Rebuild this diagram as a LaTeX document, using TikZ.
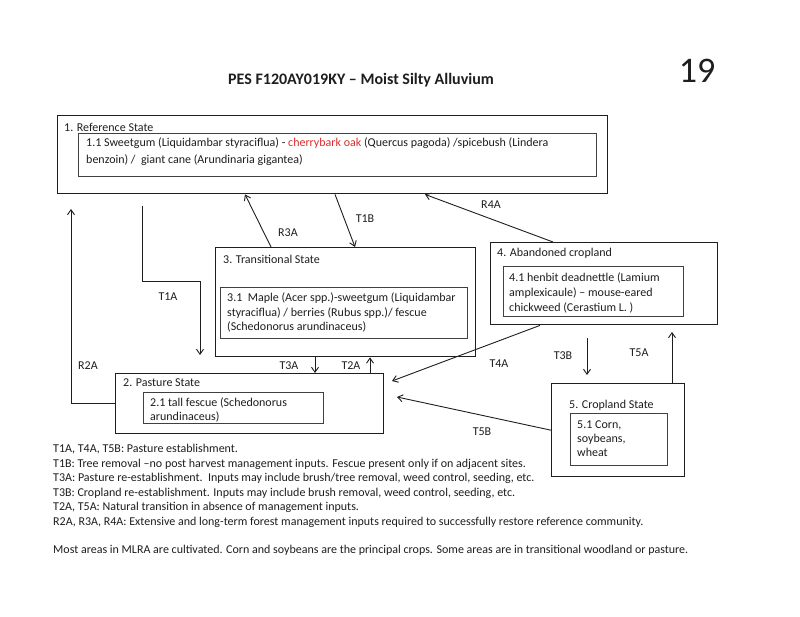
\documentclass[tikz,border=0pt]{standalone}
\usepackage{fontspec}
\setmainfont{Carlito}
\usetikzlibrary{arrows.meta}
\definecolor{ink}{HTML}{1E1E1E}
\definecolor{oakred}{HTML}{D8302E}
\begin{document}
\begin{tikzpicture}[x=1pt,y=-1pt,
  obox/.style={draw=ink, line width=1.4pt, rectangle, anchor=north west, inner sep=0pt},
  ibox/.style={draw=ink!85, line width=1pt, rectangle, anchor=north west, inner sep=0pt},
  txt/.style={anchor=north west, inner sep=0pt, align=left, text=ink, font=\fontsize{12}{14.5}\selectfont},
  lbl/.style={inner sep=0pt, text=ink, font=\fontsize{12}{14}\selectfont},
  arr/.style={draw=ink, line width=0.9pt, -{Straight Barb[length=5pt,width=7pt]}}]
\useasboundingbox[fill=white] (0,0) rectangle (800,617);

\node[font=\bfseries\fontsize{16}{19}\selectfont, text=ink] (title) at (361,80) {PES F120AY019KY -- Moist Silty Alluvium};
\node[font=\fontsize{36}{42}\selectfont, text=ink] (pg) at (697,71) {19};

% boxes
\node[obox, minimum width=550, minimum height=78] (ref) at (57,115) {};
\node[ibox, minimum width=518, minimum height=43] (ref1) at (78,133) {};
\node[obox, minimum width=260, minimum height=109] (trans) at (215,247) {};
\node[ibox, minimum width=247, minimum height=51] (trans1) at (220,287) {};
\node[obox, minimum width=227, minimum height=82] (aband) at (490,242) {};
\node[ibox, minimum width=180, minimum height=50] (aband1) at (503,266) {};
\node[obox, minimum width=133, minimum height=93] (crop) at (551,383) {};
\node[ibox, minimum width=97, minimum height=52] (crop1) at (570,413) {};
\node[obox, minimum width=268, minimum height=60] (past) at (115,373) {};
\node[ibox, minimum width=180, minimum height=31] (past1) at (143,392) {};

% box texts
\node[txt] (refT) at (64,123) {1. Reference State};
\node[txt, font=\fontsize{12}{16.5}\selectfont] (ref1T) at (86,138) {1.1 Sweetgum (Liquidambar styraciflua) - \textcolor{oakred}{cherrybark oak} (Quercus pagoda) /spicebush (Lindera\\benzoin) /\ \ giant cane (Arundinaria gigantea)};
\node[txt] (transT) at (223,255) {3. Transitional State};
\node[txt, font=\fontsize{12}{14.2}\selectfont] (trans1T) at (227,293) {3.1\ \ Maple (Acer spp.)-sweetgum (Liquidambar\\styraciflua) / berries (Rubus spp.)/ fescue\\(Schedonorus arundinaceus)};
\node[txt] (abandT) at (497,248) {4. Abandoned cropland};
\node[txt, font=\fontsize{12}{15}\selectfont] (aband1T) at (509,273) {4.1 henbit deadnettle (Lamium\\amplexicaule) -- mouse-eared\\chickweed (Cerastium L. )};
\node[txt] (cropT) at (569,400) {5. Cropland State};
\node[txt, font=\fontsize{12}{13.6}\selectfont] (crop1T) at (577,421) {5.1 Corn,\\soybeans,\\wheat};
\node[txt] (pastT) at (123,379) {2. Pasture State};
\node[txt, font=\fontsize{12}{14}\selectfont] (past1T) at (150,398) {2.1 tall fescue (Schedonorus\\arundinaceus)};

% free ends
\coordinate (r2aend) at (71,209);
\coordinate (t1as) at (142,206);
\coordinate (t1ae) at (200,355);
\coordinate (t4aend) at (392,381);
\coordinate (t3bs) at (587,338);
\coordinate (t3be) at (587,375);
\coordinate (t5aend) at (672,332);
\coordinate (t5bend) at (397,397);

% connectors
\draw[arr] (past.west) -| (r2aend);
\draw[arr] (t1as) -- (142,281) -- (200,281) -- (t1ae);
\draw[arr] (271,0 |- trans.north) -- (245,0 |- ref.south);
\draw[arr] (335,0 |- ref.south) -- (355,0 |- trans.north);
\draw[arr] (553,0 |- aband.north) -- (425,0 |- ref.south);
\draw[arr] (315,0 |- trans.south) -- (315,0 |- past.north);
\draw[arr] (370,0 |- past.north) -- (370,0 |- trans.south);
\draw[arr] (540,0 |- aband.south) -- (t4aend);
\draw[arr] (t3bs) -- (t3be);
\draw[arr] (672,0 |- crop.north) -- (t5aend);
\draw[arr] (crop.west) -- (t5bend);

% connector labels
\node[lbl] (lR2A) at (88,366) {R2A};
\node[lbl] (lT1A) at (168,297) {T1A};
\node[lbl] (lR3A) at (288,233) {R3A};
\node[lbl] (lT1B) at (365,219) {T1B};
\node[lbl] (lR4A) at (491,205) {R4A};
\node[lbl] (lT3A) at (289,366) {T3A};
\node[lbl] (lT2A) at (351,366) {T2A};
\node[lbl] (lT4A) at (499,364) {T4A};
\node[lbl] (lT3B) at (563,356) {T3B};
\node[lbl] (lT5A) at (639,353) {T5A};
\node[lbl] (lT5B) at (482,432) {T5B};

% legend
\node[txt] (legend) at (53,444) {T1A, T4A, T5B: Pasture establishment.\\
T1B: Tree removal --no post harvest management inputs. Fescue present only if on adjacent sites.\\
T3A: Pasture re-establishment.\ \ Inputs may include brush/tree removal, weed control, seeding, etc.\\
T3B: Cropland re-establishment. Inputs may include brush removal, weed control, seeding, etc.\\
T2A, T5A: Natural transition in absence of management inputs.\\
R2A, R3A, R4A: Extensive and long-term forest management inputs required to successfully restore reference community.};
\node[txt] (note) at (53,545) {Most areas in MLRA are cultivated. Corn and soybeans are the principal crops. Some areas are in transitional woodland or pasture.};
\end{tikzpicture}
\end{document}
